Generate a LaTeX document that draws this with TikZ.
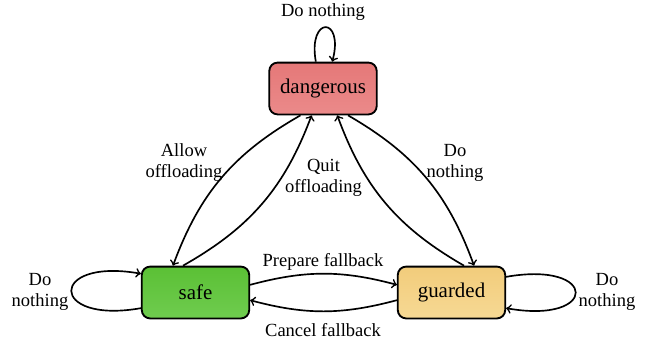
\documentclass[tikz,border=0pt]{standalone}
\usepackage{fontspec}
\setmainfont{Liberation Serif}
\definecolor{dtop}{HTML}{E57878}
\definecolor{dbot}{HTML}{EB8A8A}
\definecolor{stop}{HTML}{5BC035}
\definecolor{sbot}{HTML}{6FCC4F}
\definecolor{gtop}{HTML}{F2CC7B}
\definecolor{gbot}{HTML}{F6D994}
\begin{document}
\begin{tikzpicture}[x=0.54pt,y=0.54pt,
  state/.style={draw=black, line width=1pt, rounded corners=4.5pt,
    minimum width=58pt, minimum height=28pt, inner sep=0pt,
    font=\fontsize{11.3}{13.5}\selectfont},
  lbl/.style={font=\fontsize{10}{11.4}\selectfont, align=center, inner sep=0pt},
  edge/.style={->, line width=0.9pt}]
\useasboundingbox (0,0) rectangle (651,348);
\node[state, top color=dtop, bottom color=dbot] (d) at (323,259.5) {dangerous};
\node[state, top color=stop, bottom color=sbot] (s) at (195.5,55.5) {safe};
\node[state, top color=gtop, bottom color=gbot] (g) at (451.5,55.5) {guarded};

\draw[edge] (d.105) .. controls +(100:47) and +(75:47) .. (d.71);
\draw[edge] (s.196) .. controls +(190:94) and +(170:94) .. (s.161);
\draw[edge] (g.16) .. controls +(10:94) and +(-10:94) .. (g.344);

\draw[edge] (d.230) to[bend right=20] (s.130);
\draw[edge] (s.115) to[bend right=20] (d.247);
\draw[edge] (d.313) to[bend left=20] (g.50);
\draw[edge] (g.65) to[bend left=20] (d.298);
\draw[edge] (s.8) to[bend left=15] (g.172);
\draw[edge] (g.188) to[bend left=15] (s.352);

\node[lbl] (l1) at (323,336) {Do nothing};
\node[lbl] (l2) at (40,56) {Do\\nothing};
\node[lbl] (l3) at (607,56) {Do\\nothing};
\node[lbl] (l4) at (323,86) {Prepare fallback};
\node[lbl] (l5) at (323,18) {Cancel fallback};
\node[lbl] (l6) at (184,185.5) {Allow\\offloading};
\node[lbl] (l7) at (323.5,170.5) {Quit\\offloading};
\node[lbl] (l8) at (455,185.5) {Do\\nothing};
\end{tikzpicture}
\end{document}
